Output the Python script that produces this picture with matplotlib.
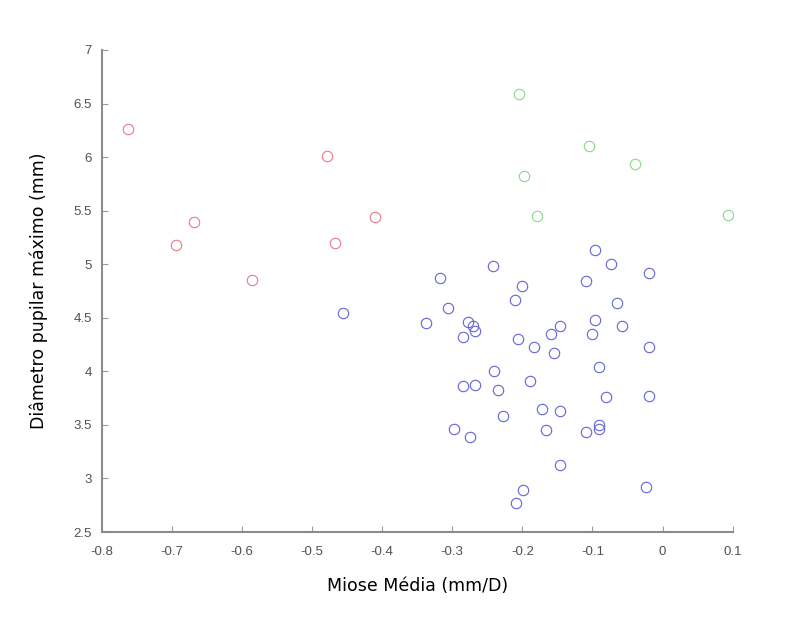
import numpy as np
import matplotlib.pyplot as plt

# grupo vermelho
x_red = [-0.762, -0.694, -0.668, -0.585, -0.479, -0.467, -0.410]
y_red = [6.26, 5.18, 5.39, 4.855, 6.01, 5.20, 5.44]

# grupo verde
x_green = [-0.205, -0.105, -0.040, -0.198, -0.179, 0.093]
y_green = [6.59, 6.10, 5.94, 5.82, 5.45, 5.46]

# grupo azul
x_blue = [-0.456, -0.097, -0.074, -0.020, -0.242, -0.317, -0.201, -0.210, -0.109, -0.065,
          -0.306, -0.338, -0.277, -0.271, -0.268, -0.285, -0.206, -0.184, -0.159, -0.146,
          -0.155, -0.097, -0.100, -0.058, -0.019, -0.091, -0.240, -0.285, -0.268, -0.235,
          -0.189, -0.080, -0.019, -0.172, -0.146, -0.228, -0.298, -0.274, -0.166, -0.109,
          -0.091, -0.090, -0.146, -0.199, -0.209, -0.023]
y_blue = [4.54, 5.135, 5.00, 4.92, 4.98, 4.87, 4.80, 4.67, 4.84, 4.64,
          4.59, 4.45, 4.465, 4.42, 4.38, 4.32, 4.30, 4.23, 4.35, 4.425,
          4.17, 4.48, 4.35, 4.425, 4.23, 4.045, 4.00, 3.86, 3.87, 3.83,
          3.91, 3.765, 3.77, 3.647, 3.63, 3.58, 3.46, 3.39, 3.45, 3.43,
          3.50, 3.46, 3.13, 2.89, 2.77, 2.92]

xticks = [-0.8, -0.7, -0.6, -0.5, -0.4, -0.3, -0.2, -0.1, 0, 0.1]
xtick_labels = ['-0.8', '-0.7', '-0.6', '-0.5', '-0.4', '-0.3', '-0.2', '-0.1', '0', '0.1']
yticks = [2.5, 3, 3.5, 4, 4.5, 5, 5.5, 6, 6.5, 7]
ytick_labels = ['2.5', '3', '3.5', '4', '4.5', '5', '5.5', '6', '6.5', '7']

fig = plt.figure(figsize=(7.93, 6.21), dpi=100)
ax = fig.add_axes([0.128, 0.1433, 0.796, 0.7762])

ax.plot(x_red, y_red, 'o', mfc='none', mec='#e8798a', ms=7.5, mew=0.8)
ax.plot(x_green, y_green, 'o', mfc='none', mec='#8ad88a', ms=7.5, mew=0.8)
ax.plot(x_blue, y_blue, 'o', mfc='none', mec='#6464d4', ms=7.5, mew=0.8)

ax.set_xlim(-0.8, 0.1)
ax.set_ylim(2.5, 7)
ax.set_xticks(xticks)
ax.set_xticklabels(xtick_labels)
ax.set_yticks(yticks)
ax.set_yticklabels(ytick_labels)

for s in ['top', 'right']:
    ax.spines[s].set_visible(False)
for s in ['left', 'bottom']:
    ax.spines[s].set_color('#8c8c8c')
    ax.spines[s].set_linewidth(1.5)

ax.tick_params(direction='in', length=4, width=0.8, color='#9a9a9a',
               labelsize=9.5, labelcolor='#505050')
ax.tick_params(axis='x', pad=10)
ax.tick_params(axis='y', pad=7)
for lab in ax.get_xticklabels() + ax.get_yticklabels():
    lab.set_family('Liberation Sans')

ax.set_xlabel('Miose Média (mm/D)', fontsize=12.5, family='DejaVu Sans', labelpad=14)
ax.set_ylabel('Diâmetro pupilar máximo (mm)', fontsize=12.5, family='DejaVu Sans', labelpad=18)

plt.savefig('out.png', dpi=100)
